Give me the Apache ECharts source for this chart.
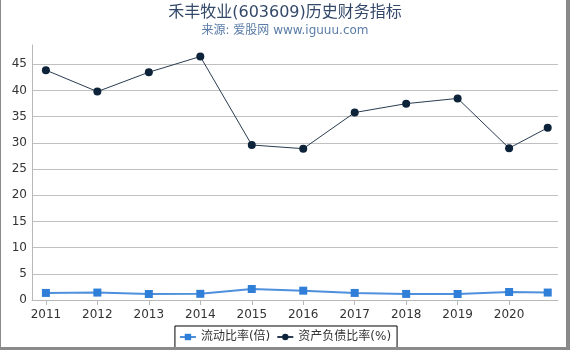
<!DOCTYPE html>
<html>
<head>
<meta charset="utf-8">
<script src="https://cdn.jsdelivr.net/npm/echarts@6/dist/echarts.min.js"></script>
<style>
  html, body { margin: 0; padding: 0; background: #fff; }
  #wrap { position: relative; width: 570px; height: 350px; }
  #chart { width: 570px; height: 350px; }
  #frame {
    position: absolute; left: 0; top: 0; width: 570px; height: 350px;
    box-sizing: border-box; pointer-events: none;
    border-left: 1px solid #8a8a8a; border-right: 4px solid #8a8a8a; border-bottom: 3px solid #8a8a8a;
  }
</style>
</head>
<body>
<div id="wrap">
  <div id="chart"></div>
  <div id="frame"></div>
</div>
<script>
// x positions of the points (last one is a partial year)
var xValues = [2011, 2012, 2013, 2014, 2015, 2016, 2017, 2018, 2019, 2020, 2020.75];
var yearTicks = [2011, 2012, 2013, 2014, 2015, 2016, 2017, 2018, 2019, 2020];
var yTicks = [0, 5, 10, 15, 20, 25, 30, 35, 40, 45];
var currentRatio = [1.35, 1.42, 1.15, 1.18, 2.1, 1.78, 1.35, 1.16, 1.15, 1.53, 1.42];
var debtRatio = [43.9, 39.8, 43.5, 46.5, 29.6, 28.9, 35.8, 37.5, 38.5, 29.0, 32.9];
var seriesNames = ['流动比率(倍)', '资产负债比率(%)'];

function pairs(xs, ys) {
  return xs.map(function (x, i) { return [x, ys[i]]; });
}

var chart = echarts.init(document.getElementById('chart'), null, { renderer: 'canvas' });

var option = {
  backgroundColor: '#fff',
  animation: false,
  textStyle: { fontFamily: 'DejaVu Sans, Noto Sans CJK SC, sans-serif' },
  title: {
    text: '禾丰牧业(603609)历史财务指标',
    subtext: '来源: 爱股网 www.iguuu.com',
    left: 'center',
    top: 0,
    itemGap: 4,
    textStyle: { fontSize: 16, fontWeight: 'normal', color: '#34496a', fontFamily: 'DejaVu Sans, Noto Sans CJK SC, sans-serif' },
    subtextStyle: { fontSize: 12, color: '#5b7ca8', fontFamily: 'DejaVu Sans, Noto Sans CJK SC, sans-serif' }
  },
  legend: {
    data: seriesNames,
    left: 'center',
    bottom: 2,
    itemWidth: 16,
    itemHeight: 8,
    itemGap: 6,
    padding: [5, 6, 5, 4],
    borderColor: '#000',
    borderWidth: 1,
    textStyle: { fontSize: 12, color: '#333' }
  },
  grid: { left: 32, right: 12, top: 45, bottom: 50 },
  xAxis: {
    type: 'value',
    min: 2010.73,
    max: 2020.95,
    axisLine: { lineStyle: { color: '#b8b8b8' } },
    axisTick: { show: true, length: 5, customValues: yearTicks, lineStyle: { color: '#b8b8b8' } },
    axisLabel: {
      customValues: yearTicks, color: '#333', fontSize: 12, margin: 9,
      formatter: function (v) { return String(v); }
    },
    splitLine: { show: false }
  },
  yAxis: {
    type: 'value',
    min: 0,
    max: 48.7,
    axisLine: { show: true, lineStyle: { color: '#b8b8b8' } },
    axisTick: { show: false, customValues: yTicks },
    axisLabel: { customValues: yTicks, color: '#333', fontSize: 12, margin: 5 },
    splitLine: { show: true, lineStyle: { color: '#c0c0c0' } }
  },
  series: [
    {
      name: seriesNames[0],
      type: 'line',
      data: pairs(xValues, currentRatio),
      symbol: 'rect',
      symbolSize: 8,
      itemStyle: { color: '#2f7ed8' },
      lineStyle: { color: '#4f90dd', width: 2 }
    },
    {
      name: seriesNames[1],
      type: 'line',
      data: pairs(xValues, debtRatio),
      symbol: 'circle',
      symbolSize: 8,
      itemStyle: { color: '#0d233a' },
      lineStyle: { color: '#2a3c52', width: 1 }
    }
  ]
};

chart.setOption(option);
</script>
</body>
</html>
